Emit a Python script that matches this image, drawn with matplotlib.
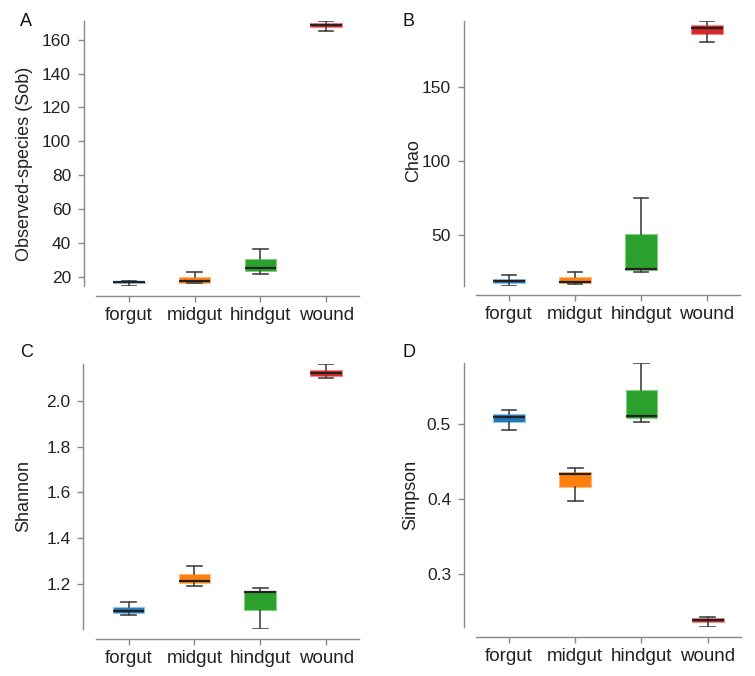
import numpy as np
import matplotlib
matplotlib.use("Agg")
import matplotlib.pyplot as plt

plt.rcParams['font.family'] = ['Liberation Sans', 'DejaVu Sans']

groups = ["forgut", "midgut", "hindgut", "wound"]
colors = ["#2377b8", "#ff7f0e", "#2ca02c", "#d62728"]
edges = ["#8ec4ea", "#ffb878", "#7fd07f", "#f08a8a"]

# per panel: whislo, q1, median, q3, whishi for each group
sob_lo = [15.0, 16.5, 22.0, 165.0]
sob_q1 = [16.6, 16.6, 23.7, 167.3]
sob_med = [17.0, 17.6, 25.5, 168.5]
sob_q3 = [17.2, 20.2, 30.4, 169.7]
sob_hi = [17.4, 23.1, 36.3, 171.0]

chao_lo = [15.7, 17.1, 25.0, 180.6]
chao_q1 = [17.4, 17.8, 26.4, 185.8]
chao_med = [18.9, 18.3, 27.2, 189.9]
chao_q3 = [20.5, 21.8, 50.7, 192.1]
chao_hi = [23.2, 25.0, 74.8, 194.6]

sha_lo = [1.066, 1.193, 1.004, 2.099]
sha_q1 = [1.072, 1.206, 1.087, 2.110]
sha_med = [1.084, 1.212, 1.165, 2.122]
sha_q3 = [1.098, 1.242, 1.171, 2.135]
sha_hi = [1.120, 1.277, 1.184, 2.160]

sim_lo = [0.4929, 0.3973, 0.5027, 0.2286]
sim_q1 = [0.5036, 0.4165, 0.5080, 0.2348]
sim_med = [0.5100, 0.4335, 0.5110, 0.2380]
sim_q3 = [0.5143, 0.4366, 0.5460, 0.2411]
sim_hi = [0.5190, 0.4420, 0.5826, 0.2424]

panels = [
    ("A", "Observed-species (Sob)", [sob_lo, sob_q1, sob_med, sob_q3, sob_hi],
     [20, 40, 60, 80, 100, 120, 140, 160], "{:.0f}", (14.7, 171.0)),
    ("B", "Chao", [chao_lo, chao_q1, chao_med, chao_q3, chao_hi],
     [50, 100, 150], "{:.0f}", (15.7, 194.6)),
    ("C", "Shannon", [sha_lo, sha_q1, sha_med, sha_q3, sha_hi],
     [1.2, 1.4, 1.6, 1.8, 2.0], "{:.1f}", (1.002, 2.16)),
    ("D", "Simpson", [sim_lo, sim_q1, sim_med, sim_q3, sim_hi],
     [0.3, 0.4, 0.5], "{:.1f}", (0.2281, 0.5826)),
]

# axes rectangles in figure fraction (left, bottom, width, height)
rects = [
    (0.1272, 0.5769, 0.3483, 0.3920),
    (0.6305, 0.5775, 0.3497, 0.3914),
    (0.1268, 0.0691, 0.3487, 0.3920),
    (0.6305, 0.0720, 0.3506, 0.3914),
]
label_pos = [(20, 21), (403, 21), (20, 353), (403, 353)]
ylab_xy = [(-0.24, 0.46), (-0.204, 0.471), (-0.24, 0.503), (-0.216, 0.5)]

fig = plt.figure(figsize=(7.55, 6.76), dpi=100)

for (letter, ylab, st, ticks, fmt, lim), rect, lp, lxy in zip(panels, rects, label_pos, ylab_xy):
    ax = fig.add_axes(rect)
    stats = []
    for i, g in enumerate(groups):
        stats.append(dict(label=g, whislo=st[0][i], q1=st[1][i], med=st[2][i],
                          q3=st[3][i], whishi=st[4][i], fliers=[]))
    bp = ax.bxp(stats, positions=[1, 2, 3, 4], widths=0.48, capwidths=0.22,
                patch_artist=True, showfliers=False,
                whiskerprops=dict(color="#444444", lw=1.2),
                capprops=dict(color="#444444", lw=1.2),
                medianprops=dict(color="#222222", lw=1.6))
    for b, c, e in zip(bp["boxes"], colors, edges):
        b.set_facecolor(c)
        b.set_edgecolor(e)
        b.set_linewidth(0.8)
    ax.set_xlim(0.5, 4.5)
    ax.set_ylim(*lim)
    ax.set_yticks(ticks)
    ax.set_yticklabels([fmt.format(t) for t in ticks])
    for s in ["top", "right"]:
        ax.spines[s].set_visible(False)
    ax.spines["left"].set_position(("outward", 9))
    ax.spines["bottom"].set_position(("outward", 7))
    for s in ["left", "bottom"]:
        ax.spines[s].set_color("#888888")
        ax.spines[s].set_linewidth(1.0)
    ax.tick_params(length=4, width=1.0, color="#888888",
                   labelcolor="#222222")
    ax.tick_params(axis="y", labelsize=12.5, pad=5)
    ax.tick_params(axis="x", labelsize=13.5, pad=4)
    ax.set_ylabel(ylab, fontsize=13, color="#222222")
    ax.yaxis.set_label_coords(*lxy)
    fig.text(lp[0] / 755, 1 - lp[1] / 676, letter, fontsize=13,
             color="#111111", ha="left", va="center")

fig.savefig("out.png", dpi=100)
